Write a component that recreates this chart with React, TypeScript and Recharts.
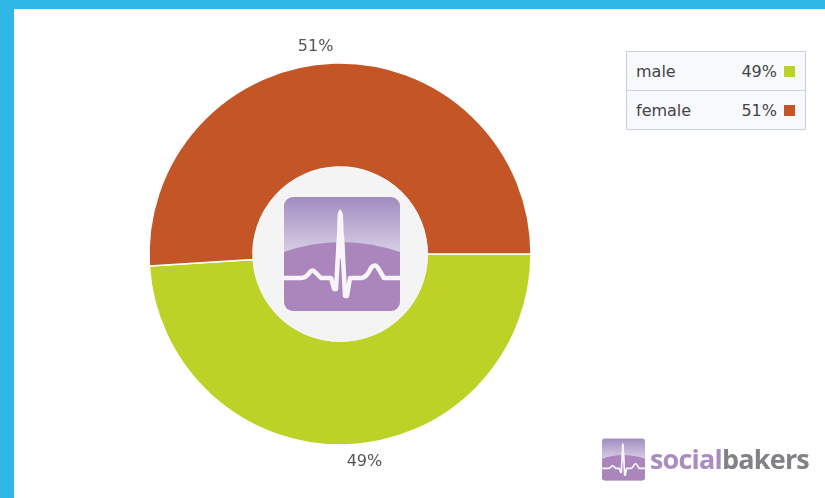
import { Cell, Legend, Pie, PieChart } from "recharts";

const genders = ["male", "female"];
const shares = [49, 51];
const colors = ["#bcd227", "#c45526"];

const chartData = genders.map((name, i) => ({ name, value: shares[i] }));

const FONT = "'DejaVu Sans', Verdana, sans-serif";

// heartbeat trace, in the logo's own 116x114 box
const TRACE =
  "M0 81 L17 81 Q22 81 26 75 Q28 72 31 75 L37 81 L47 81 L50 92 L52 92 L55 40 L58 40 L61 99 L63 99 L66 81 L78 81 Q83 80 87 71 Q91 66 94 71 L100 81 L116 81";

function LogoMark({ id, left, top, width, height }: { id: string; left: number; top: number; width: number; height: number }) {
  return (
    <svg
      viewBox="0 0 116 114"
      width={width}
      height={height}
      style={{ position: "absolute", left, top }}
    >
      <defs>
        <linearGradient id={id} x1="0" y1="0" x2="0" y2="1">
          <stop offset="0" stopColor="#a08cbf" />
          <stop offset="0.5" stopColor="#d9d0e6" />
        </linearGradient>
        <clipPath id={`${id}Clip`}>
          <rect width={116} height={114} rx={9} />
        </clipPath>
      </defs>
      <g clipPath={`url(#${id}Clip)`}>
        <rect width={116} height={114} fill={`url(#${id})`} />
        <path d="M0 55 Q56 35 116 55 L116 114 L0 114 Z" fill="#ab86bd" />
        <path d={TRACE} fill="none" stroke="#f7f5f9" strokeWidth={4.5} strokeLinejoin="round" />
        <path d="M52.5 55 L53.5 18 Q56 7 59 18 L61 70 Z" fill="#f7f5f9" />
      </g>
    </svg>
  );
}

function renderShare({ x, y, cy, textAnchor, value }: any) {
  return (
    <text
      x={x}
      y={y}
      dy={y < cy ? 8 : 1}
      textAnchor={textAnchor}
      fontFamily={FONT}
      fontSize={16}
      fill="#555"
    >
      {value}%
    </text>
  );
}

function ShareTable() {
  return (
    <div
      style={{
        width: 178,
        border: "1px solid #c9d1e2",
        background: "#f8f9fc",
        fontFamily: FONT,
        fontSize: 16,
        color: "#444",
      }}
    >
      {genders.map((name, i) => (
        <div
          key={name}
          style={{
            display: "flex",
            alignItems: "center",
            height: 38,
            paddingLeft: 9,
            borderTop: i ? "1px solid #c9d1e2" : "none",
          }}
        >
          <span style={{ flex: 1 }}>{name}</span>
          <span>{shares[i]}%</span>
          <span
            style={{
              width: 11,
              height: 11,
              margin: "0 10px 0 7px",
              background: colors[i],
            }}
          />
        </div>
      ))}
    </div>
  );
}

export default function App() {
  return (
    <div
      style={{
        position: "fixed",
        left: 0,
        top: 0,
        width: 825,
        height: 498,
        overflow: "hidden",
        background: "#2fb8e7",
      }}
    >
      <div
        style={{
          position: "absolute",
          left: 14,
          top: 9,
          width: 811,
          height: 489,
          background: "#ffffff",
        }}
      />
      <div style={{ position: "absolute", left: 0, top: 0, filter: "blur(0.4px)" }}>
        <PieChart width={825} height={498} margin={{ top: 0, right: 0, bottom: 0, left: 0 }}>
          <Pie
            data={chartData}
            dataKey="value"
            nameKey="name"
            cx={340}
            cy={254}
            innerRadius={87}
            outerRadius={191}
            startAngle={183.6}
            endAngle={543.6}
            stroke="#ffffff"
            strokeWidth={1.5}
            label={renderShare}
            labelLine={false}
            isAnimationActive={false}
          >
            {genders.map((name, i) => (
              <Cell key={name} fill={colors[i]} />
            ))}
          </Pie>
          <Legend
            content={<ShareTable />}
            wrapperStyle={{ position: "absolute", left: 626, top: 51, width: 180, bottom: "auto" }}
          />
        </PieChart>
      </div>
      <div
        style={{
          position: "absolute",
          left: 253,
          top: 167,
          width: 175,
          height: 175,
          borderRadius: "50%",
          background: "#f4f4f5",
        }}
      />
      <div style={{ filter: "blur(0.5px)" }}>
        <LogoMark id="logoBig" left={284} top={197} width={116} height={114} />
        <LogoMark id="logoSmall" left={602} top={437} width={43} height={45} />
      </div>
      <div
        style={{
          position: "absolute",
          left: 650,
          top: 441,
          fontFamily: "'Open Sans', sans-serif",
          fontWeight: 700,
          fontSize: 27,
          letterSpacing: -0.8,
          lineHeight: "36px",
          whiteSpace: "nowrap",
          color: "#808285",
          filter: "blur(0.5px)",
        }}
      >
        <span style={{ color: "#a98cc1" }}>social</span>bakers
      </div>
    </div>
  );
}
